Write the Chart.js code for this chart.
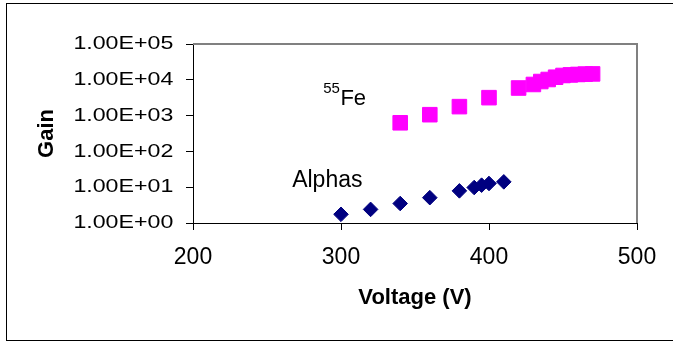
<!DOCTYPE html>
<html>
<head>
<meta charset="utf-8">
<title>Gain vs Voltage</title>
<script src="https://cdn.jsdelivr.net/npm/chart.js@4.4.0/dist/chart.umd.min.js"></script>
<style>
  body { margin: 0; background: #fff; }
  canvas { display: block; }
</style>
</head>
<body>
<canvas id="gain-chart" width="673" height="343"></canvas>
<script>
// data
var alphaVoltage = [300, 320, 340, 360, 380, 390, 395, 400, 410]
var alphaGain = [1.75, 2.4, 3.5, 5.1, 7.9, 9.8, 11.4, 12.7, 14.1]
var feVoltage = [340, 360, 380, 400, 420, 430, 435, 440, 445, 450, 455, 460, 465, 470]
var feGain = [630, 1060, 1780, 3170, 5900, 7400, 8950, 10200, 11800, 13200, 13700, 14100, 14400, 14600]

var xTicks = [200, 300, 400, 500]
var yTicks = [1, 10, 100, 1000, 10000, 100000]
var yTickLabels = ['1.00E+00', '1.00E+01', '1.00E+02', '1.00E+03', '1.00E+04', '1.00E+05']

// text labels inside the plot, in data units
var alphaNote = { text: 'Alphas', x: 267, y: 10 }
var feNote = { sup: '55', text: 'Fe', x: 288, y: 1980 }

var FONT = '"Liberation Sans", Arial, sans-serif'

function toPoints(xs, ys) {
    var pts = []
    for (let i = 0; i < xs.length; i++) {
        pts.push({ x: xs[i], y: ys[i] })
    }
    return pts
}

// frame, plot border, y labels (excel squeezes them wide) and notes
var extras = {
    id: 'extras',
    afterDraw: function (chart) {
        var ctx = chart.ctx
        var area = chart.chartArea
        var xs = chart.scales.x
        var ys = chart.scales.y
        ctx.save()

        // outer chart frame
        ctx.strokeStyle = '#000'
        ctx.lineWidth = 1
        ctx.strokeRect(6.5, 3.5, 700, 337)

        // grey plot border, top and right
        ctx.strokeStyle = '#808080'
        ctx.lineWidth = 2
        ctx.beginPath()
        ctx.moveTo(area.left, area.top)
        ctx.lineTo(area.right, area.top)
        ctx.lineTo(area.right, area.bottom)
        ctx.stroke()

        // y tick labels
        ctx.fillStyle = '#000'
        ctx.font = '18.6px ' + FONT
        ctx.textAlign = 'right'
        ctx.textBaseline = 'middle'
        for (let i = 0; i < yTicks.length; i++) {
            var py = ys.getPixelForValue(yTicks[i])
            ctx.save()
            ctx.translate(area.left - 19.7, py)
            ctx.scale(1.247, 1)
            ctx.fillText(yTickLabels[i], 0, 0)
            ctx.restore()
        }

        // notes
        ctx.textAlign = 'left'
        ctx.textBaseline = 'alphabetic'
        ctx.font = '23px ' + FONT
        ctx.fillText(alphaNote.text, xs.getPixelForValue(alphaNote.x), ys.getPixelForValue(alphaNote.y))

        var fx = xs.getPixelForValue(feNote.x)
        var fy = ys.getPixelForValue(feNote.y)
        ctx.font = '15px ' + FONT
        ctx.fillText(feNote.sup, fx, fy - 12)
        var w = ctx.measureText(feNote.sup).width
        ctx.font = '22px ' + FONT
        ctx.fillText(feNote.text, fx + w + 0.5, fy)

        ctx.restore()
    }
}

new Chart(document.getElementById('gain-chart'), {
    type: 'scatter',
    data: {
        datasets: [
            {
                label: 'Alphas',
                data: toPoints(alphaVoltage, alphaGain),
                pointStyle: 'rectRot',
                pointRadius: 7.3,
                borderWidth: 1,
                backgroundColor: '#000080',
                borderColor: '#000080'
            },
            {
                label: '55Fe',
                data: toPoints(feVoltage, feGain),
                pointStyle: 'rect',
                pointRadius: 10.3,
                borderWidth: 1,
                backgroundColor: '#ff00ff',
                borderColor: '#ff00ff'
            }
        ]
    },
    options: {
        responsive: false,
        animation: false,
        events: [],
        layout: { padding: { left: 0, top: 44, right: 36, bottom: 0 } },
        plugins: {
            legend: { display: false },
            tooltip: { enabled: false }
        },
        scales: {
            x: {
                type: 'linear',
                min: 200,
                max: 500,
                afterBuildTicks: function (scale) {
                    scale.ticks = xTicks.map(function (v) { return { value: v } })
                },
                afterFit: function (scale) { scale.height = 120 },
                border: { display: true, color: '#000', width: 1 },
                grid: { drawOnChartArea: false, color: '#000', tickLength: 7 },
                ticks: {
                    color: '#000',
                    padding: 14,
                    maxRotation: 0,
                    font: { family: FONT, size: 23 }
                },
                title: {
                    display: true,
                    text: 'Voltage (V)',
                    color: '#000',
                    font: { family: FONT, size: 22, weight: 'bold', lineHeight: 1 },
                    padding: { top: 0, bottom: 34.5 }
                }
            },
            y: {
                type: 'logarithmic',
                min: 1,
                max: 100000,
                afterBuildTicks: function (scale) {
                    scale.ticks = yTicks.map(function (v) { return { value: v } })
                },
                afterFit: function (scale) { scale.width = 193 },
                border: { display: true, color: '#000', width: 1 },
                grid: { drawOnChartArea: false, color: '#000', tickLength: 7 },
                ticks: { display: false },
                title: {
                    display: true,
                    text: 'Gain',
                    color: '#000',
                    font: { family: FONT, size: 22, weight: 'bold', lineHeight: 1 },
                    padding: { top: 36, bottom: 0 }
                }
            }
        }
    },
    plugins: [extras]
});
</script>
</body>
</html>
